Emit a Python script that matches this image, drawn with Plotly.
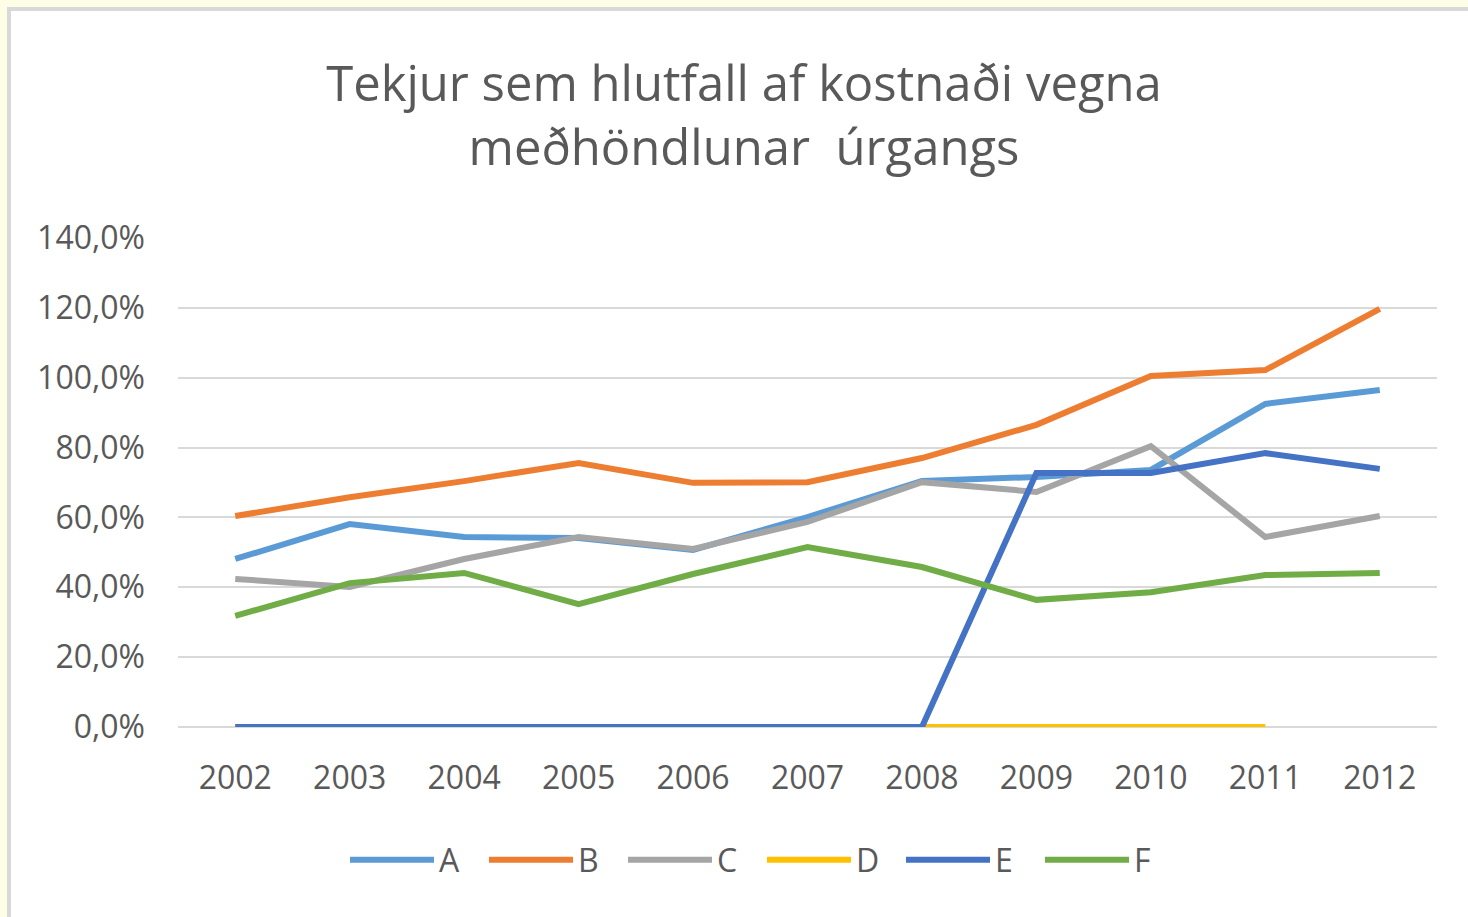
import plotly.graph_objects as go

years = ["2002", "2003", "2004", "2005", "2006", "2007", "2008", "2009", "2010", "2011", "2012"]
A = [48.1, 58.1, 54.4, 54.1, 50.7, 60.1, 70.4, 71.6, 73.6, 92.5, 96.5]
B = [60.4, 65.8, 70.4, 75.6, 69.9, 70.1, 77.0, 86.5, 100.5, 102.2, 119.7]
C = [42.4, 40.1, 48.1, 54.4, 51.0, 58.7, 70.1, 67.3, 80.4, 54.4, 60.4]
D = [0, 0, 0, 0, 0, 0, 0, 0, 0, 0, None]
E = [0, 0, 0, 0, 0, 0, 0, 72.7, 72.7, 78.4, 73.9]
F = [31.8, 41.2, 44.1, 35.2, 43.8, 51.5, 45.8, 36.4, 38.6, 43.5, 44.1]

series = [("A", A, "#5B9BD5"), ("B", B, "#ED7D31"), ("C", C, "#A5A5A5"),
          ("D", D, "#FFC000"), ("E", E, "#4472C4"), ("F", F, "#70AD47")]

W, H = 1468, 917
ml, mr, mt, mb = 178, 31, 238, 190
pw, ph = W - ml - mr, H - mt - mb
FONT = "Open Sans, Segoe UI, sans-serif"
GREY = "#595959"

fig = go.Figure()
for name, vals, col in series:
    fig.add_trace(go.Scatter(x=years, y=[v / 100 if v is not None else None for v in vals],
                             name=name, mode="lines",
                             line=dict(color=col, width=6), connectgaps=False))

fig.update_layout(
    width=W, height=H,
    margin=dict(l=ml, r=mr, t=mt, b=mb),
    paper_bgcolor="#FEFEE6",
    plot_bgcolor="rgba(0,0,0,0)",
    font=dict(family=FONT, color=GREY),
    title=dict(text="Tekjur sem hlutfall af kostnaði vegna<br>meðhöndlunar  úrgangs",
               x=744 / W, xanchor="center", y=1 - 101 / H, yanchor="middle",
               font=dict(size=49, color=GREY, family=FONT)),
    xaxis=dict(type="category", range=[-0.5, 10.5], showgrid=False, showline=False,
               ticks="", tickfont=dict(size=32, color=GREY), ticklabelstandoff=29),
    yaxis=dict(range=[0, 1.4], dtick=0.2, tickformat=".1%",
               showgrid=True, gridcolor="#D9D9D9", gridwidth=1.5,
               zeroline=True, zerolinecolor="#D9D9D9", zerolinewidth=1.5,
               tickfont=dict(size=32, color=GREY), ticks="", ticklabelstandoff=32),
    separators=",.",
    legend=dict(orientation="h", x=(762 - ml) / pw,
                xanchor="center", y=(727 - 860) / ph, yanchor="middle",
                font=dict(size=32, color=GREY), itemwidth=84,
                entrywidth=40, entrywidthmode="pixels",
                bgcolor="rgba(0,0,0,0)"),
    shapes=[dict(type="rect", xref="paper", yref="paper", layer="below",
                 x0=(9 - ml) / pw, x1=(W + 20 - ml) / pw,
                 y0=-(mb + 20) / ph, y1=(H - 9 - mb) / ph,
                 fillcolor="white", line=dict(color="#D9D9D9", width=4))],
    showlegend=True,
)

fig.write_html("out.html", config={"displayModeBar": False},
               post_script="document.body.style.margin='0';document.body.style.background='#FEFEE6';")
